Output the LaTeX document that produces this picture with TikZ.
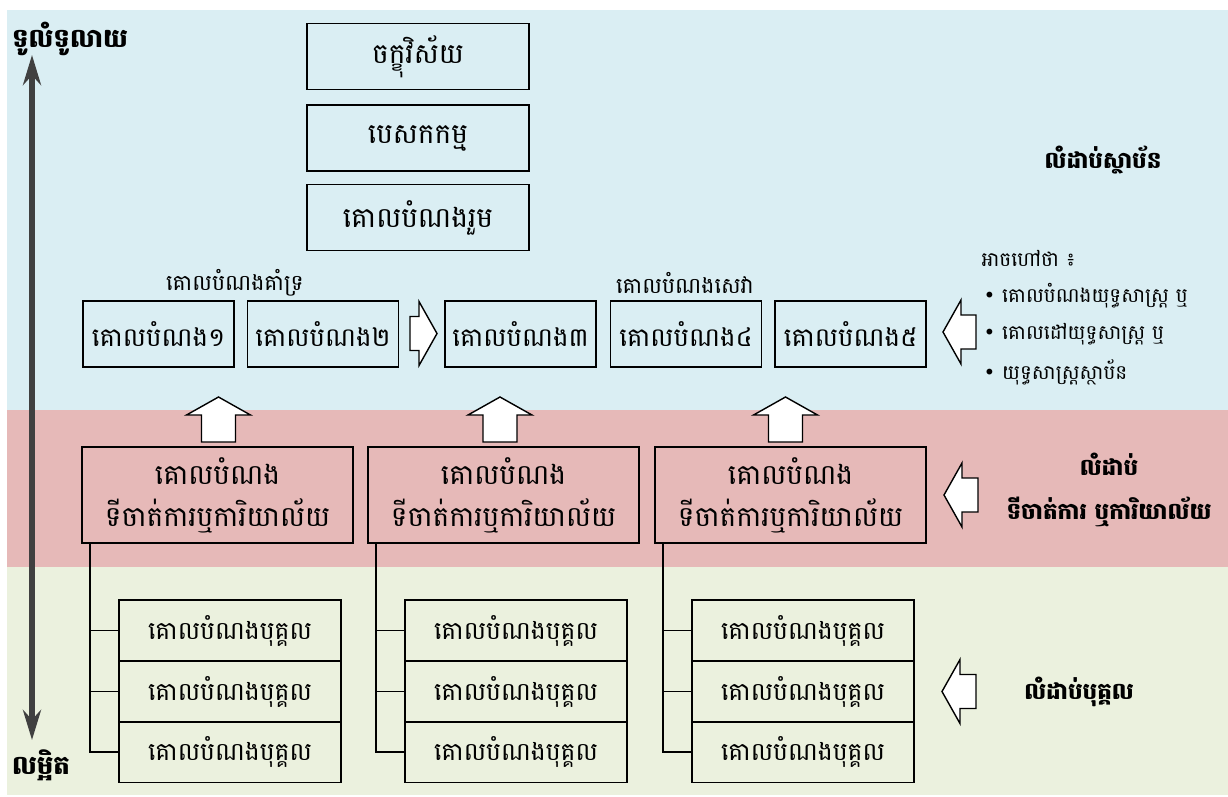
\documentclass[tikz,border=0pt]{standalone}
\usepackage{fontspec}
\setmainfont{Battambang}[Script=Khmer]
\newfontfamily\dejavu{DejaVu Sans}
\usetikzlibrary{positioning,arrows.meta}
\definecolor{bandblue}{HTML}{DAEEF3}
\definecolor{bandred}{HTML}{E6B9B8}
\definecolor{bandgreen}{HTML}{EBF1DE}
\definecolor{axisgray}{HTML}{404040}
\begin{document}
\begin{tikzpicture}[x=1pt,y=-1pt,
    box/.style={draw,line width=1.9pt,inner sep=0pt,font=\fontsize{26}{30}\selectfont},
    topbox/.style={box,minimum width=222pt,minimum height=66pt,font=\fontsize{28}{32}\selectfont},
    goal/.style={box,minimum width=151pt,minimum height=66pt},
    unit/.style={box,minimum width=271pt,minimum height=96pt,align=center,font=\fontsize{28}{42}\selectfont},
    person/.style={box,minimum width=222pt,minimum height=61pt,font=\fontsize{25}{30}\selectfont},
    level/.style={font=\bfseries\fontsize{23}{44}\selectfont,align=center},
    plain/.style={font=\fontsize{20}{24}\selectfont},
    title/.style={font=\bfseries\fontsize{26}{30}\selectfont},
    arrowline/.style={draw,line width=1.4pt,fill=white,line join=miter},
    pics/fatarrow/.style={code={
      \path[arrowline] ({-#1/2},-17) -- ({#1/2-18},-17) -- ({#1/2-18},-32) -- ({#1/2},0)
        -- ({#1/2-18},32) -- ({#1/2-18},17) -- ({-#1/2},17) -- cycle;}},
  ]
\useasboundingbox (0,0) rectangle (1228,796);
% bands
\fill[bandblue] (7,10) rectangle (1228,410);
\fill[bandred] (7,410) rectangle (1228,567);
\fill[bandgreen] (7,567) rectangle (1228,795);

% axis
\node[title] (broad) at (70,39) {ទូលំទូលាយ};
\node[title] (detail) at (41,765) {លម្អិត};
\coordinate (axtop) at (32,55);
\coordinate (axbot) at (32,740);
\draw[axisgray,line width=6pt,{Stealth[length=30pt,width=18pt]}-{Stealth[length=30pt,width=18pt]}] (axtop) -- (axbot);

% top
\node[topbox] (vision) at (418,56.5) {ចក្ខុវិស័យ};
\node[topbox] (mission) at (418,138) {បេសកកម្ម};
\node[topbox] (overall) at (418,217.5) {គោលបំណងរួម};

% goals
\node[goal] (g1) at (158.5,334) {គោលបំណង១};
\node[goal] (g2) at (323,334) {គោលបំណង២};
\node[goal] (g3) at (520.5,334) {គោលបំណង៣};
\node[goal] (g4) at (686,334) {គោលបំណង៤};
\node[goal] (g5) at (850.5,334) {គោលបំណង៥};
\node[plain,font=\fontsize{22}{26}\selectfont] (support) at (235,283) {គោលបំណងគាំទ្រ};
\node[plain,font=\fontsize{22}{26}\selectfont] (service) at (685,283) {គោលបំណងសេវា};
\pic (toright) at (423.5,333.5) {fatarrow=27};

% units
\node[unit] (u1) at (217.5,495) {គោលបំណង\\ទីចាត់ការឬការិយាល័យ};
\node[unit] (u2) at (503.5,495) {គោលបំណង\\ទីចាត់ការឬការិយាល័យ};
\node[unit] (u3) at (790.5,495) {គោលបំណង\\ទីចាត់ការឬការិយាល័យ};
\foreach \u/\x in {1/218.5,2/500,3/785.5}
  \pic[rotate=90] (up\u) at (\x,419.5) {fatarrow=45};

% persons
\foreach \u/\x in {1/230,2/516,3/803}{
  \foreach \r/\y in {1/630.5,2/691.5,3/752}
    \node[person] (p\u\r) at (\x,\y) {គោលបំណងបុគ្គល};
  \foreach \r in {1,2,3}
    \draw[line width=1.5pt] ([xshift=9pt]u\u.south west) |- (p\u\r.west);
}

% right side
\node[plain,anchor=west] (alias) at (978,258) {អាចហៅថា ៖};
\node[plain,anchor=west] (b1) at (980,296) {{\dejavu •}\ គោលបំណងយុទ្ធសាស្ត្រ ឬ};
\node[plain,anchor=west] (b2) at (980,334) {{\dejavu •}\ គោលដៅយុទ្ធសាស្ត្រ ឬ};
\node[plain,anchor=west] (b3) at (980,372) {{\dejavu •}\ យុទ្ធសាស្ត្រស្ថាប័ន};
\node[level] (lvinst) at (1103,160) {លំដាប់ស្ថាប័ន};
\node[level] (lvunit) at (1109,490) {លំដាប់\\ទីចាត់ការ ឬការិយាល័យ};
\node[level] (lvpers) at (1079,692) {លំដាប់បុគ្គល};
\pic[rotate=180] (frominst) at (959.5,332) {fatarrow=33};
\pic[rotate=180] (fromunit) at (961,495) {fatarrow=34};
\pic[rotate=180] (frompers) at (959,691.5) {fatarrow=34};
\end{tikzpicture}
\end{document}
